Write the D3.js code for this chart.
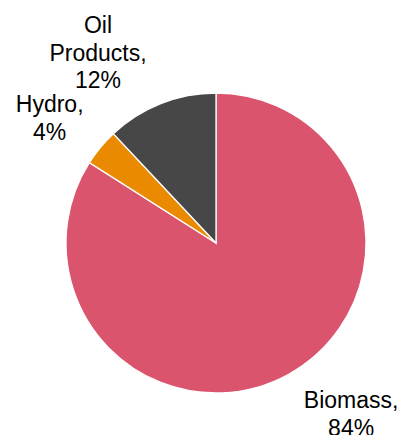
<!DOCTYPE html>
<html>
<head>
<meta charset="utf-8">
<script src="https://cdn.jsdelivr.net/npm/d3@7"></script>
<style>
  html, body { margin: 0; padding: 0; background: #fff; }
  svg { display: block; }
  text { font-family: "Liberation Sans", Arial, sans-serif; font-size: 23px; fill: #000; }
</style>
</head>
<body>
<svg id="chart" width="406" height="435"></svg>
<script>
// Energy mix shares (%)
const categories = ["Biomass", "Hydro", "Oil Products"];
const shares = [84, 4, 12];
const colors = ["#DB546D", "#EA8A00", "#474747"];

const width = 406, height = 435;
const cx = 216, cy = 243, radius = 150;

const svg = d3.select("#chart");
const g = svg.append("g").attr("transform", `translate(${cx},${cy})`);

const data = categories.map((c, i) => ({ name: c, value: shares[i], color: colors[i] }));

const pie = d3.pie().value(d => d.value).sort(null);
const arc = d3.arc().innerRadius(0).outerRadius(radius);
const arcs = pie(data);

g.selectAll("path.slice")
  .data(arcs)
  .join("path")
  .attr("class", "slice")
  .attr("d", arc)
  .attr("fill", d => d.data.color)
  .attr("stroke", "#fff")
  .attr("stroke-width", 1.3);

// Outside-end labels: anchored at the slice's mid angle, then nudged clear of neighbours
const labelRadius = 212;
const nudges = {
  "Biomass": { dx: 33, dy: -7 },
  "Hydro": { dx: -3, dy: 18 },
  "Oil Products": { dx: -40, dy: 15 }
};
const lineHeight = 27.5;

arcs.forEach(a => {
  const mid = (a.startAngle + a.endAngle) / 2;
  const n = nudges[a.data.name];
  const x = Math.sin(mid) * labelRadius + n.dx;
  const y = -Math.cos(mid) * labelRadius + n.dy;
  const words = a.data.name.split(" ");
  const lines = words.map((w, i) => (i === words.length - 1 ? w + "," : w));
  lines.push(a.data.value + "%");
  const t = g.append("text")
    .attr("text-anchor", "middle")
    .attr("transform", `translate(${x},${y})`);
  const offset = -((lines.length - 1) / 2) * lineHeight;
  lines.forEach((ln, i) => {
    t.append("tspan")
      .attr("x", 0)
      .attr("y", offset + i * lineHeight)
      .text(ln);
  });
});
</script>
</body>
</html>
